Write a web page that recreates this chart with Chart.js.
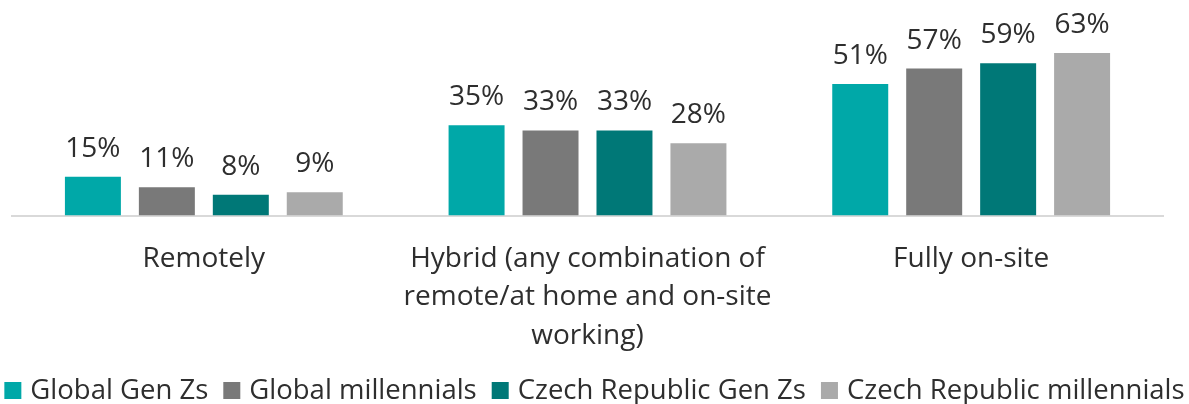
<!DOCTYPE html>
<html>
<head>
<meta charset="utf-8">
<script src="https://cdn.jsdelivr.net/npm/chart.js@4.4.1/dist/chart.umd.min.js"></script>
<style>
  html, body { margin: 0; padding: 0; background: #ffffff; }
  #wrap { width: 1189px; height: 404px; }
</style>
</head>
<body>
<div id="wrap"><canvas id="c" width="1189" height="404"></canvas></div>
<script>
// Preferred way of working, share of respondents (%)
const categories = [
  "Remotely",
  ["Hybrid (any combination of", "remote/at home and on-site", "working)"],
  "Fully on-site"
];
const seriesNames = [
  "Global Gen Zs",
  "Global millennials",
  "Czech Republic Gen Zs",
  "Czech Republic millennials"
];
const globalGenZ = [15, 35, 51];
const globalMillennials = [11, 33, 57];
const czechGenZ = [8, 33, 59];
const czechMillennials = [9, 28, 63];

const seriesColors = ["#00a8a8", "#797979", "#007877", "#aaaaaa"];
const textColor = "#2e2e2e";
const fontFamily = "'Open Sans', sans-serif";
const fontSize = 28;
const legendFontSize = 27.5;

Chart.defaults.font.family = fontFamily;
Chart.defaults.color = textColor;

// Percent labels above each bar
const valueLabels = {
  id: "valueLabels",
  afterDatasetsDraw(chart) {
    const ctx = chart.ctx;
    ctx.save();
    ctx.font = fontSize + "px " + fontFamily;
    ctx.fillStyle = textColor;
    ctx.textAlign = "center";
    ctx.textBaseline = "alphabetic";
    chart.data.datasets.forEach((ds, i) => {
      chart.getDatasetMeta(i).data.forEach((bar, j) => {
        ctx.fillText(ds.data[j] + "%", bar.x, bar.y - 20);
      });
    });
    ctx.restore();
  }
};

// Single-row legend along the bottom edge, centred on the canvas
const bottomLegend = {
  id: "bottomLegend",
  afterDraw(chart) {
    const ctx = chart.ctx;
    const box = 17, boxGap = 9, itemGap = 15, baseline = 399;
    ctx.save();
    ctx.font = legendFontSize + "px " + fontFamily;
    ctx.textBaseline = "alphabetic";
    ctx.textAlign = "left";
    const items = chart.data.datasets.map(ds => ({
      text: ds.label,
      color: ds.backgroundColor,
      w: ctx.measureText(ds.label).width
    }));
    const total = items.reduce((s, it) => s + box + boxGap + it.w, 0) + itemGap * (items.length - 1);
    let x = (chart.width - total) / 2;
    items.forEach(it => {
      ctx.fillStyle = it.color;
      ctx.fillRect(x, baseline - box, box, box);
      ctx.fillStyle = textColor;
      ctx.fillText(it.text, x + box + boxGap, baseline);
      x += box + boxGap + it.w + itemGap;
    });
    ctx.restore();
  }
};

const allSeries = [globalGenZ, globalMillennials, czechGenZ, czechMillennials];

new Chart(document.getElementById("c"), {
  type: "bar",
  data: {
    labels: categories,
    datasets: allSeries.map((values, i) => ({
      label: seriesNames[i],
      data: values,
      backgroundColor: seriesColors[i],
      borderWidth: 0,
      categoryPercentage: 0.771,
      barPercentage: 0.757
    }))
  },
  options: {
    responsive: false,
    animation: false,
    layout: { padding: { top: 35, left: 12, right: 26, bottom: 25 } },
    plugins: {
      tooltip: { enabled: false },
      legend: { display: false }
    },
    scales: {
      x: {
        grid: { display: false, drawTicks: false },
        border: { display: true, color: "#d9d9d9", width: 2 },
        ticks: {
          color: textColor,
          padding: 24,
          maxRotation: 0,
          autoSkip: false,
          font: { size: fontSize, family: fontFamily, lineHeight: 1.375 }
        }
      },
      y: {
        display: false,
        min: 0,
        max: 70
      }
    }
  },
  plugins: [valueLabels, bottomLegend]
});
</script>
</body>
</html>
